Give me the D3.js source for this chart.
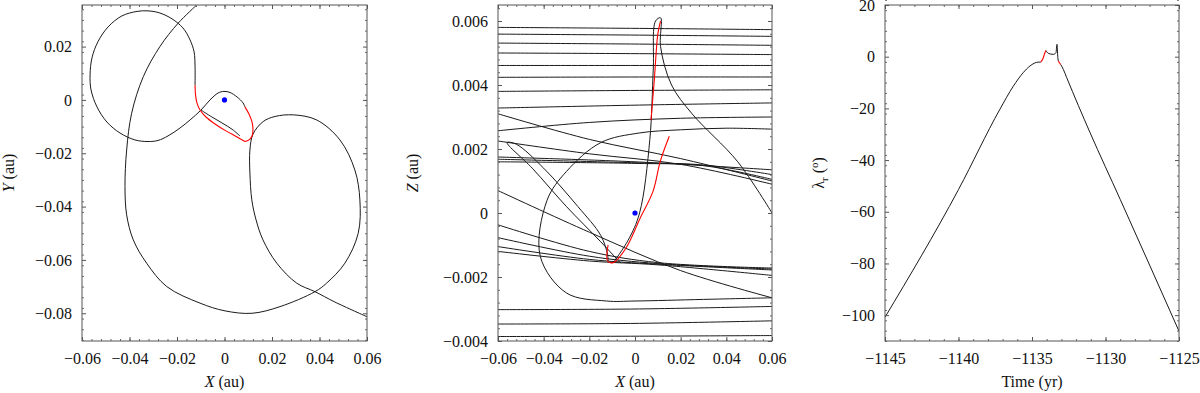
<!DOCTYPE html>
<html>
<head>
<meta charset="utf-8">
<script src="https://cdn.jsdelivr.net/npm/d3@7/dist/d3.min.js"></script>
<style>
body { margin: 0; background: #fff; }
svg { font-family: "Liberation Serif", "DejaVu Serif", serif; }
</style>
</head>
<body>
<svg id="chart" width="1200" height="393"></svg>
<script>
// ---- panel 1 : X-Y (au) ----
const xyBlack = [
  // big outer curve, entering at the top
  [[-0.0117,0.0356],[-0.0195,0.0288],[-0.0272,0.0200],[-0.0342,0.0087],[-0.0391,-0.0050],[-0.0412,-0.0188],
   [-0.0419,-0.0325],[-0.0412,-0.0431],[-0.0384,-0.0525],[-0.0328,-0.0612],[-0.0243,-0.0700],[-0.0103,-0.0762],
   [0.0002,-0.0791],[0.0116,-0.0800],[0.0234,-0.0775],[0.0381,-0.0719],[0.0430,-0.0687],[0.0507,-0.0612],
   [0.0563,-0.0500],[0.0570,-0.0375],[0.0549,-0.0263],[0.0486,-0.0150],[0.0388,-0.0075],[0.0290,-0.0056],
   [0.0213,-0.0062],[0.0163,-0.0081],[0.0120,-0.0128],[0.0107,-0.0188],[0.0107,-0.0274],[0.0115,-0.0375],
   [0.0133,-0.0450],[0.0162,-0.0525],[0.0220,-0.0612],[0.0304,-0.0687],[0.0381,-0.0719],[0.0465,-0.0758],[0.0600,-0.0813]],
  // left loop and small inner loop
  [[0.0086,-0.0026],[0.0078,-0.0011],[0.0053,0.0011],[0.0023,0.0028],[-0.0002,0.0032],[-0.0027,0.0026],
   [-0.0061,0.0000],[-0.0099,-0.0038],[-0.0145,-0.0075],[-0.0187,-0.0105],[-0.0238,-0.0135],[-0.0280,-0.0152],
   [-0.0322,-0.0156],[-0.0377,-0.0150],[-0.0440,-0.0124],[-0.0495,-0.0083],[-0.0537,-0.0026],[-0.0562,0.0038],
   [-0.0566,0.0094],[-0.0558,0.0158],[-0.0533,0.0218],[-0.0490,0.0274],[-0.0432,0.0315],[-0.0368,0.0332],
   [-0.0322,0.0334],[-0.0272,0.0326],[-0.0221,0.0304],[-0.0175,0.0270],[-0.0145,0.0225],[-0.0128,0.0180],
   [-0.0124,0.0124],[-0.0124,0.0056]],
  [[-0.0099,-0.0038],[-0.0053,-0.0064],[-0.0011,-0.0086],[0.0032,-0.0110],[0.0065,-0.0135]]
];
const xyRed = [
  [[-0.0124,0.0056],[-0.0122,0.0019],[-0.0116,-0.0011],[-0.0103,-0.0038],[-0.0078,-0.0064],[-0.0040,-0.0090],
   [0.0006,-0.0116],[0.0053,-0.0139],[0.0086,-0.0156]],
  [[0.0086,-0.0156],[0.0103,-0.0150],[0.0116,-0.0135],[0.0120,-0.0113],[0.0116,-0.0083],[0.0103,-0.0053],[0.0086,-0.0026]]
];

// ---- panel 2 : X-Z (au) ----
const xzBlack = [
  [[-0.06,0.00580],[0.0,0.00577],[0.06,0.00573]],
  [[-0.06,0.00559],[0.0,0.00556],[0.06,0.00552]],
  [[-0.06,0.00531],[0.0,0.00528],[0.06,0.00524]],
  [[-0.06,0.00500],[0.0,0.00498],[0.06,0.00495]],
  [[-0.06,0.00461],[0.0,0.00461],[0.06,0.00461]],
  [[-0.06,0.00424],[0.0,0.00425],[0.06,0.00425]],
  [[-0.06,0.00380],[0.0,0.00383],[0.06,0.00385]],
  [[-0.06,0.00328],[0.0,0.00337],[0.06,0.00344]],
  [[-0.06,0.00257],[-0.02,0.00283],[0.02,0.00296],[0.06,0.00300]],
  [[-0.06,0.00310],[-0.02,0.00230],[0.02,0.00170],[0.06,0.00100]],
  [[-0.06,0.00175],[0.0,0.00160],[0.06,0.00135]],
  [[-0.06,0.00168],[0.0,0.00157],[0.03,0.00150],[0.06,0.00120]],
  [[-0.06,0.00160],[0.0,0.00155],[0.03,0.00148],[0.06,0.00105]],
  [[-0.06,0.00225],[-0.02,0.00185],[0.02,0.00152],[0.06,0.00090]],
  [[-0.06,0.00070],[-0.02,-0.00060],[0.02,-0.00180],[0.06,-0.00265]],
  [[-0.06,-0.00037],[-0.02,-0.00120],[0.01,-0.00155],[0.06,-0.00172]],
  [[-0.06,-0.00077],[-0.02,-0.00135],[0.01,-0.00158],[0.06,-0.00175]],
  [[-0.06,-0.00105],[-0.02,-0.00145],[0.01,-0.00160],[0.06,-0.00178]],
  [[-0.06,-0.00120],[-0.02,-0.00150],[0.01,-0.00162],[0.06,-0.00195]],
  [[-0.06,-0.00302],[0.0,-0.00300],[0.06,-0.00292]],
  [[-0.06,-0.00347],[0.0,-0.00345],[0.06,-0.00337]],
  [[-0.06,-0.00386],[0.0,-0.00385],[0.06,-0.00383]],
  // ellipse-like loop
  [[0.06,-0.00265],[0.03,-0.00270],[0.0,-0.00275],[-0.0125,-0.00275],[-0.03,-0.00250],[-0.0415,-0.00135],
   [-0.0385,0.00040],[-0.0300,0.00130],[-0.0150,0.00220],[0.0018,0.00250],[0.02,0.00260],[0.04,0.00265],[0.06,0.00262]],
  // narrow loop on the left and V
  [[-0.0065,-0.00155],[-0.015,-0.00090],[-0.030,0.00020],[-0.045,0.00140],[-0.056,0.00220],[-0.052,0.00215],
   [-0.040,0.00140],[-0.025,0.00020],[-0.015,-0.00070],[-0.012,-0.00130],[-0.0118,-0.00150]],
  // tall narrow loop
  [[-0.0095,-0.00155],[-0.003,-0.00085],[0.002,0.00000],[0.0065,0.00230],[0.008,0.00450],[0.0090,0.00600],
   [0.0112,0.00610],[0.0112,0.00520],[0.016,0.00400],[0.025,0.00310],[0.045,0.00160],[0.060,0.00000]]
];
const xzRed = [
  [[-0.0118,-0.00100],[-0.0120,-0.00150],[-0.0095,-0.00155],[-0.0040,-0.00110],[0.0020,-0.00020],[0.0080,0.00070],
   [0.0110,0.00160],[0.0150,0.00240]],
  [[0.0070,0.00290],[0.0085,0.00420],[0.0100,0.00560],[0.0112,0.00600]]
];

// ---- panel 3 : lambda_r vs time ----
const lamTime  = [-1145,-1140.0,-1137.18,-1136.27,-1135.6,-1135.14,-1134.57,-1134.41];
const lamValue = [-100.8,-51.4,-20.3,-11.4,-6.2,-3.6,-2.1,-2.1];
const lamRed1T = [-1134.41,-1134.25,-1134.12,-1134.05];
const lamRed1V = [-2.1,-0.7,1.5,2.4];
const lamMidT  = [-1134.05,-1133.89,-1133.55,-1133.37,-1133.3,-1133.25,-1133.21];
const lamMidV  = [2.4,1.3,0.9,1.5,4.8,0.2,-1.7];
const lamRed2T = [-1133.21,-1133.05];
const lamRed2V = [-1.7,-3.0];
const lamEndT  = [-1133.05,-1132.87,-1132.64,-1131.05,-1129.0,-1125];
const lamEndV  = [-3.0,-4.9,-8.1,-29.4,-55.2,-106.2];

const svg = d3.select("#chart");

function panel(o) {
  const x = d3.scaleLinear().domain(o.xDomain).range([o.left, o.right]);
  const y = d3.scaleLinear().domain(o.yDomain).range([o.bottom, o.top]);
  const g = svg.append("g");

  const clipId = "clip" + o.id;
  svg.append("clipPath").attr("id", clipId).append("rect")
    .attr("x", o.left).attr("y", o.top).attr("width", o.right - o.left).attr("height", o.bottom - o.top);

  const plot = g.append("g").attr("clip-path", `url(#${clipId})`);
  const line = d3.line().x(d => x(d[0])).y(d => y(d[1])).curve(o.curve || d3.curveCatmullRom.alpha(0.5));

  o.black.forEach(p => plot.append("path").attr("d", line(p)).attr("fill", "none")
    .attr("stroke", "#1a1a1a").attr("stroke-width", 1));
  o.red.forEach(p => plot.append("path").attr("d", line(p)).attr("fill", "none")
    .attr("stroke", "#f00").attr("stroke-width", 1.1));
  if (o.dot) plot.append("circle").attr("cx", x(o.dot[0])).attr("cy", y(o.dot[1])).attr("r", 2.6).attr("fill", "#0000ff");

  // frame
  g.append("rect").attr("x", o.left).attr("y", o.top).attr("width", o.right - o.left).attr("height", o.bottom - o.top)
    .attr("fill", "none").attr("stroke", "#555").attr("stroke-width", 1);

  const axes = [
    [o.bottom, "x", true], [o.top, "x", false],
    [o.left, "y", true], [o.right, "y", false]
  ];
  axes.forEach(([pos, dir, labels]) => {
    const major = dir === "x" ? o.xTicks : o.yTicks;
    const minor = dir === "x" ? o.xMinor : o.yMinor;
    const fmt = dir === "x" ? o.xFmt : o.yFmt;
    const tr = dir === "x" ? `translate(0,${pos})` : `translate(${pos},0)`;
    const mk = () => dir === "x" ? (pos === o.bottom ? d3.axisBottom(x) : d3.axisTop(x))
                                 : (pos === o.left ? d3.axisLeft(y) : d3.axisRight(y));
    const gm = g.append("g").attr("transform", tr)
      .call(mk().tickValues(minor).tickSize(-2).tickSizeOuter(0).tickFormat(""));
    gm.select(".domain").remove();
    gm.selectAll("line").attr("stroke", "#666");
    const gM = g.append("g").attr("transform", tr)
      .call(mk().tickValues(major).tickSize(-4).tickSizeOuter(0).tickPadding(dir === "x" ? 12 : 10)
        .tickFormat(labels ? fmt : ""));
    gM.attr("font-family", "Liberation Serif, serif").attr("font-size", 16);
    gM.select(".domain").remove();
    gM.selectAll("line").attr("stroke", "#555");
    gM.selectAll("text").attr("fill", "#111");
  });

  // axis titles
  const xt = g.append("text").attr("x", (o.left + o.right) / 2).attr("y", 387)
    .attr("text-anchor", "middle").attr("font-size", 16).attr("fill", "#111");
  o.xTitle(xt);
  const yt = g.append("text")
    .attr("transform", `translate(${o.yTitleX},${(o.top + o.bottom) / 2}) rotate(-90)`)
    .attr("text-anchor", "middle").attr("font-size", 16).attr("fill", "#111");
  o.yTitle(yt);
}

const f2 = d => d === 0 ? "0" : d3.format(".2f")(d);
const f3 = d => d === 0 ? "0" : d3.format(".3f")(d);
const rangeStep = (a, b, s) => d3.range(Math.round((b - a) / s) + 1).map(i => +(a + i * s).toFixed(6));
const italicTitle = (v, rest) => t => { t.append("tspan").attr("font-style", "italic").text(v); t.append("tspan").text(rest); };

panel({
  id: 1, left: 82, right: 367, top: 5, bottom: 341,
  xDomain: [-0.06, 0.06], yDomain: [-0.0904, 0.0356],
  xTicks: rangeStep(-0.06, 0.06, 0.02), yTicks: rangeStep(-0.08, 0.02, 0.02),
  xMinor: rangeStep(-0.06, 0.06, 0.004), yMinor: rangeStep(-0.09, 0.034, 0.004),
  xFmt: f2, yFmt: f2,
  black: xyBlack, red: xyRed, dot: [0, 0],
  xTitle: italicTitle("X", " (au)"), yTitle: italicTitle("Y", " (au)"), yTitleX: 14
});

panel({
  id: 2, left: 498, right: 772, top: 5, bottom: 341,
  xDomain: [-0.06, 0.06], yDomain: [-0.004, 0.0065],
  xTicks: rangeStep(-0.06, 0.06, 0.02), yTicks: rangeStep(-0.004, 0.006, 0.002),
  xMinor: rangeStep(-0.06, 0.06, 0.004), yMinor: rangeStep(-0.004, 0.0064, 0.0004),
  xFmt: f2, yFmt: f3,
  black: xzBlack, red: xzRed, dot: [0, 0],
  xTitle: italicTitle("X", " (au)"), yTitle: italicTitle("Z", " (au)"), yTitleX: 418
});

panel({
  id: 3, left: 885, right: 1179, top: 5, bottom: 341,
  xDomain: [-1145, -1125], yDomain: [-110, 20],
  xTicks: rangeStep(-1145, -1125, 5), yTicks: rangeStep(-100, 20, 20),
  xMinor: rangeStep(-1145, -1125, 1), yMinor: rangeStep(-110, 20, 4),
  xFmt: d3.format("d"), yFmt: d3.format("d"),
  curve: d3.curveMonotoneX,
  black: [d3.zip(lamTime, lamValue), d3.zip(lamMidT, lamMidV), d3.zip(lamEndT, lamEndV)],
  red: [d3.zip(lamRed1T, lamRed1V), d3.zip(lamRed2T, lamRed2V)],
  xTitle: t => t.text("Time (yr)"),
  yTitle: t => {
    t.append("tspan").text("λ");
    t.append("tspan").attr("font-size", 11).attr("dy", 4).text("r");
    t.append("tspan").attr("dy", -4).text(" (");
    t.append("tspan").attr("font-size", 11).attr("dy", -6).text("o");
    t.append("tspan").attr("dy", 6).text(")");
  },
  yTitleX: 824
});
</script>
</body>
</html>
